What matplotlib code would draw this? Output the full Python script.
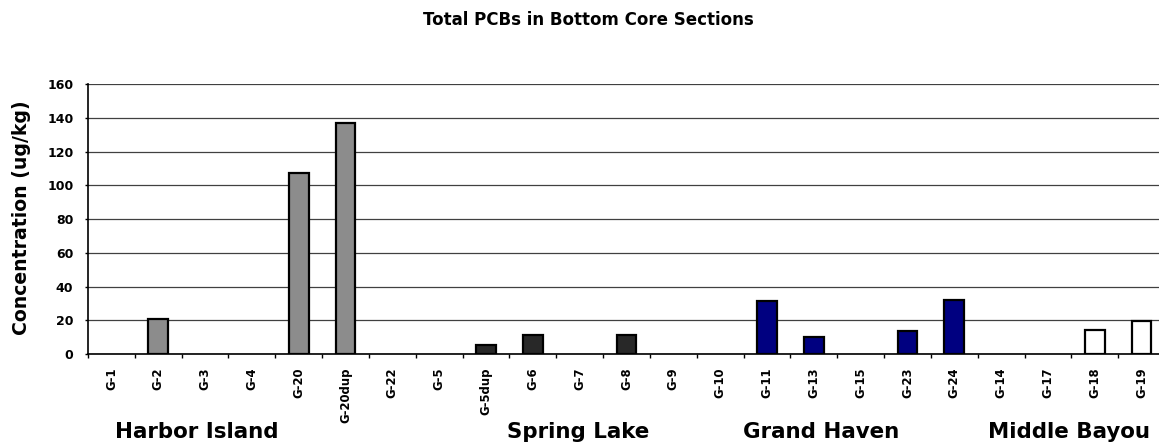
import matplotlib
matplotlib.use("Agg")
import matplotlib.pyplot as plt
import numpy as np

plt.rcParams['font.family'] = ['DejaVu Sans']
plt.rcParams['font.weight'] = 'bold'

# Sample stations and total PCB concentrations (ug/kg)
stations = ["G-1", "G-2", "G-3", "G-4", "G-20", "G-20dup", "G-22",
            "G-5", "G-5dup", "G-6", "G-7", "G-8", "G-9", "G-10",
            "G-11", "G-13", "G-15", "G-23", "G-24",
            "G-14", "G-17", "G-18", "G-19"]
pcb_values = [0, 21, 0, 0, 107, 137, 0,
              0, 5.5, 11.5, 0, 11.5, 0, 0,
              31.5, 10, 0, 13.5, 32,
              0, 0, 14, 19.5]
# Area each station belongs to
areas = ["Harbor Island"] * 7 + ["Spring Lake"] * 7 + ["Grand Haven"] * 5 + ["Middle Bayou"] * 4
area_colors = {
    "Harbor Island": "#8c8c8c",
    "Spring Lake": "#282828",
    "Grand Haven": "#000080",
    "Middle Bayou": "#ffffff",
}
# Area captions along the bottom (x in station units)
area_labels = ["Harbor Island", "Spring Lake", "Grand Haven", "Middle Bayou"]
area_label_x = [1.83, 9.96, 15.15, 20.46]

yticks = [0, 20, 40, 60, 80, 100, 120, 140, 160]

W, H = 1159, 444
fig = plt.figure(figsize=(W / 100, H / 100), dpi=100)
left, right, top, bottom = 88, 1165, 84, 354
ax = fig.add_axes([left / W, 1 - bottom / H, (right - left) / W, (bottom - top) / H])

x = np.arange(len(stations))
colors = [area_colors[a] for a in areas]
edge_w = [1.6 if v > 0 else 0 for v in pcb_values]
ax.bar(x, pcb_values, width=0.42, color=colors, edgecolor="black", linewidth=edge_w, zorder=3)

ax.set_xlim(-0.5, len(stations) - 0.5)
ax.set_ylim(0, 160)
ax.set_yticks(yticks)
ax.set_yticklabels([str(v) for v in yticks], fontsize=9, fontweight="bold")
ax.yaxis.grid(True, color="#404040", linewidth=0.9, zorder=0)

# category boundaries carry the tick marks
ax.set_xticks(np.arange(len(stations) + 1) - 0.5)
ax.set_xticklabels([])
ax.tick_params(axis="x", direction="out", length=3, width=1, color="black")
ax.tick_params(axis="y", direction="out", length=2.5, width=1, color="black", pad=8)
for i, name in enumerate(stations):
    ax.text(i, -0.05, name, transform=ax.get_xaxis_transform(), rotation=90,
            ha="center", va="top", fontsize=8.4, fontweight="bold")

for s in ["top", "right"]:
    ax.spines[s].set_visible(False)
ax.spines["left"].set_linewidth(1.2)
ax.spines["bottom"].set_linewidth(1.2)

fig.text(22 / W, 1 - 218 / H, "Concentration (ug/kg)", rotation=90, ha="center", va="center",
         fontsize=13.6, fontweight="bold")

for lab, lx in zip(area_labels, area_label_x):
    ax.text(lx, (354 - 438) / 270, lab, transform=ax.get_xaxis_transform(),
            ha="center", va="baseline", fontsize=15.4, fontweight="bold")

fig.text(588 / W, 1 - 20 / H, "Total PCBs in Bottom Core Sections", ha="center", va="center",
         fontsize=12, fontweight="bold")

fig.savefig("out.png", dpi=100)
